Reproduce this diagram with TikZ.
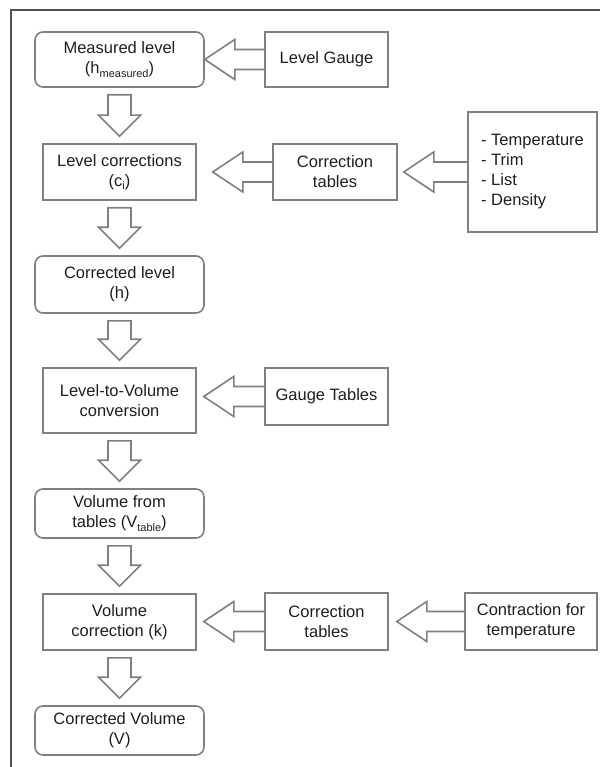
\documentclass[tikz,border=0pt]{standalone}
\usepackage{fontspec}
\setmainfont{Liberation Sans}
\usetikzlibrary{calc}
\definecolor{boxgray}{HTML}{808080}
\definecolor{framegray}{HTML}{505050}
\definecolor{txt}{HTML}{1E1E1E}
\newcommand{\mysub}[1]{\raisebox{-0.45ex}{\fontsize{11}{11}\selectfont #1}}
\newcommand{\fatleft}[3]{%
  \draw[fatarrow] let \p1=(#1.west), \p2=(#2.east) in
   (\x1,\y1+10pt) -- (\x2+#3pt+30pt,\y1+10pt) -- (\x2+#3pt+30pt,\y1+20pt) -- (\x2+#3pt,\y1)
   -- (\x2+#3pt+30pt,\y1-20pt) -- (\x2+#3pt+30pt,\y1-10pt) -- (\x1,\y1-10pt);}
\newcommand{\fatdown}[2]{%
  \draw[fatarrow] let \p1=(#1.south), \p2=(#2.north) in
   (\x1-11.5pt,\y1-7pt) -- (\x1+11.5pt,\y1-7pt) -- (\x1+11.5pt,\y2+28pt) -- (\x1+21pt,\y2+28pt)
   -- (\x1,\y2+7pt) -- (\x1-21pt,\y2+28pt) -- (\x1-11.5pt,\y2+28pt) -- cycle;}
\tikzset{
  base/.style={draw=boxgray, line width=1.6pt, align=center, text=txt,
    font=\fontsize{16.5}{20}\selectfont, inner sep=2pt},
  rbox/.style={base, rounded corners=8pt, minimum width=169pt},
  sbox/.style={base},
  fatarrow/.style={draw=boxgray, line width=1.6pt, line join=miter},
}
\begin{document}
\begin{tikzpicture}[x=1pt,y=-1pt]
\useasboundingbox (0,0) rectangle (600,767);
\draw[framegray, line width=2pt] (11,767) -- (11,10) -- (600,10);

\node[rbox, minimum height=55pt] (m) at (119.5,59.5) {Measured level\\(h\mysub{measured})};
\node[sbox, minimum width=123pt, minimum height=55pt] (lg) at (326.5,59.5) {Level Gauge};
\node[sbox, minimum width=153pt, minimum height=56pt] (lc) at (119.5,172) {Level corrections\\(c\mysub{i})};
\node[sbox, minimum width=124pt, minimum height=56pt] (ct1) at (335,172) {Correction\\tables};
\node[sbox, minimum width=129pt, minimum height=120pt, align=left] (lst) at (532.5,172) {- Temperature\\- Trim\\- List\\- Density};
\node[rbox, minimum height=57pt] (cl) at (119.5,284.5) {Corrected level\\(h)};
\node[sbox, minimum width=153pt, minimum height=65pt] (lv) at (119.5,400.5) {Level-to-Volume\\conversion};
\node[sbox, minimum width=123pt, minimum height=57pt] (gt) at (326.5,396.5) {Gauge Tables};
\node[rbox, minimum height=49pt] (vt) at (119.5,513.5) {Volume from\\tables (V\mysub{table})};
\node[sbox, minimum width=153pt, minimum height=56pt] (vc) at (119.5,622) {Volume\\correction (k)};
\node[sbox, minimum width=123pt, minimum height=57pt] (ct2) at (326.5,621.5) {Correction\\tables};
\node[sbox, minimum width=132pt, minimum height=57pt] (cft) at (531,621.5) {Contraction for\\temperature};
\node[rbox, minimum height=49pt] (cv) at (119.5,730.5) {Corrected Volume\\(V)};

\fatleft{lg}{m}{0}
\fatleft{ct1}{lc}{16}
\fatleft{lst}{ct1}{6}
\fatleft{gt}{lv}{7}
\fatleft{ct2}{vc}{7}
\fatleft{cft}{ct2}{8}

\fatdown{m}{lc}
\fatdown{lc}{cl}
\fatdown{cl}{lv}
\fatdown{lv}{vt}
\fatdown{vt}{vc}
\fatdown{vc}{cv}
\end{tikzpicture}
\end{document}
